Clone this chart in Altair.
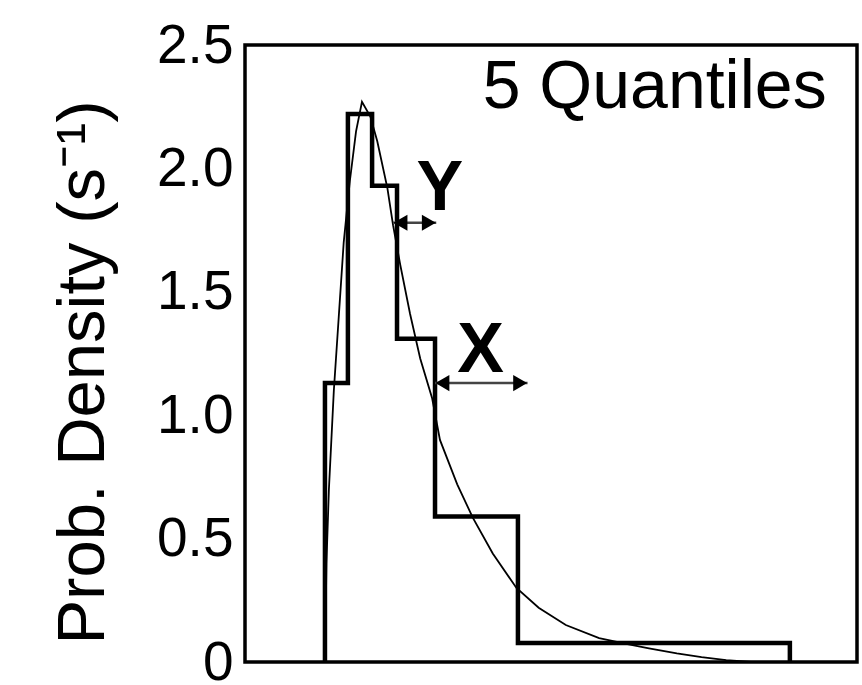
import altair as alt
import pandas as pd

# Histogram (5 quantiles)
bin_edges = [0.324, 0.417, 0.515, 0.616, 0.770, 1.106, 2.208]
bin_heights = [1.13, 2.22, 1.93, 1.31, 0.59, 0.077]

# Smooth density curve
curve_x = [0.324, 0.33, 0.34, 0.36, 0.38, 0.40, 0.425, 0.45, 0.474, 0.508, 0.536,
           0.577, 0.60, 0.629, 0.669, 0.71, 0.758, 0.79, 0.86, 0.923, 1.004, 1.10,
           1.19, 1.30, 1.435, 1.55, 1.637, 1.75, 1.85, 1.95, 2.05]
curve_y = [0.0, 0.4, 0.7, 1.1, 1.4, 1.7, 1.95, 2.15, 2.27, 2.21, 2.11,
           1.92, 1.77, 1.61, 1.41, 1.23, 1.07, 0.90, 0.72, 0.585, 0.44, 0.30,
           0.22, 0.15, 0.097, 0.072, 0.055, 0.035, 0.02, 0.008, 0.0]

y_ticks = [0, 0.5, 1.0, 1.5, 2.0, 2.5]

# Annotations
arrow_names = ["Y", "X"]
arrow_level = [1.78, 1.13]
arrow_start = [0.60, 0.77]
arrow_end = [0.775, 1.145]
label_x = [0.79, 0.955]
label_y = [1.83, 1.175]
quant_text = ["5 Quantiles"]
quant_x = [1.66]
quant_y = [2.245]

step_x = [bin_edges[0]] + bin_edges
step_y = [0.0] + bin_heights + [0.0]
step_df = pd.DataFrame({"x": step_x, "y": step_y, "i": list(range(len(step_x)))})
curve_df = pd.DataFrame({"x": curve_x, "y": curve_y, "i": list(range(len(curve_x)))})
arrow_df = pd.DataFrame({"name": arrow_names, "y": arrow_level,
                         "x0": arrow_start, "x1": arrow_end})
head_df = pd.DataFrame({
    "x": [a + 0.03 for a in arrow_start] + [b - 0.03 for b in arrow_end],
    "y": arrow_level + arrow_level,
    "shape": ["triangle-left"] * 2 + ["triangle-right"] * 2,
})
label_df = pd.DataFrame({"t": arrow_names, "x": label_x, "y": label_y})
quant_df = pd.DataFrame({"t": quant_text, "x": quant_x, "y": quant_y})

FONT = "Liberation Sans"
xs = alt.Scale(domain=[0, 2.48], nice=False, zero=False)
ys = alt.Scale(domain=[0, 2.5], nice=False)

X = alt.X("x:Q", scale=xs, axis=None)
Y = alt.Y("y:Q", scale=ys, axis=alt.Axis(
    values=y_ticks,
    labelExpr="datum.value == 0 ? '0' : format(datum.value, '.1f')",
    title="Prob. Density (s⁻¹)",
))

step = alt.Chart(step_df).mark_line(interpolate="step-after", color="black",
                                    strokeWidth=4.5, strokeJoin="miter").encode(
    x=X, y=Y, order="i:Q")
curve = alt.Chart(curve_df).mark_line(color="black", strokeWidth=1.8).encode(
    x=alt.X("x:Q", scale=xs, axis=None), y=alt.Y("y:Q", scale=ys), order="i:Q")
arrows = alt.Chart(arrow_df).mark_rule(color="#444444", strokeWidth=2.5).encode(
    x=alt.X("x0:Q", scale=xs, axis=None), x2="x1:Q", y=alt.Y("y:Q", scale=ys))
heads = alt.Chart(head_df).mark_point(filled=True, color="black", size=260,
                                      opacity=1).encode(
    x=alt.X("x:Q", scale=xs, axis=None), y=alt.Y("y:Q", scale=ys),
    shape=alt.Shape("shape:N", scale=None))
labels = alt.Chart(label_df).mark_text(font=FONT, fontSize=70, fontWeight="bold",
                                       align="center", baseline="alphabetic",
                                       color="black").encode(
    x=alt.X("x:Q", scale=xs, axis=None), y=alt.Y("y:Q", scale=ys), text="t:N")
quant = alt.Chart(quant_df).mark_text(font=FONT, fontSize=68, align="center",
                                      baseline="alphabetic", color="black").encode(
    x=alt.X("x:Q", scale=xs, axis=None), y=alt.Y("y:Q", scale=ys), text="t:N")

chart = alt.layer(step, curve, arrows, heads, labels, quant).properties(
    width=612, height=617,
    padding={"left": 245, "top": 45, "right": 5, "bottom": 23},
    autosize="none",
).configure_view(stroke="black", strokeWidth=3.5).configure_axis(
    grid=False, domain=False, ticks=False,
    labelFont=FONT, labelFontSize=55, labelColor="black", labelPadding=12,
    titleFont=FONT, titleFontSize=67, titleFontWeight="normal", titleColor="black",
    titleX=-142, titleY=327, titleBaseline="alphabetic", titleAlign="center",
    titleAngle=270,
).configure_axisY(labelOverlap=False, labelBound=False, labelFlush=False)

chart.save("out.html", embed_options={"renderer": "svg", "actions": False})
